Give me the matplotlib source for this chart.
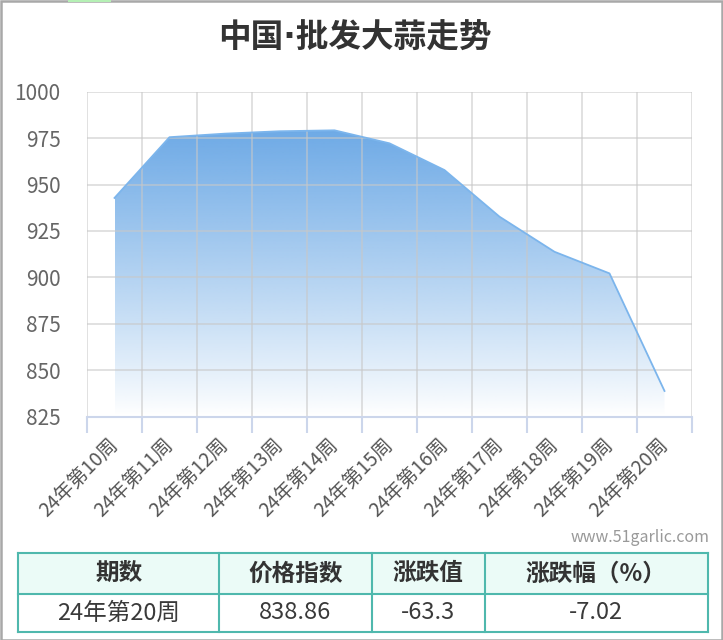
import numpy as np
import matplotlib
matplotlib.use("Agg")
import matplotlib.pyplot as plt
from matplotlib.patches import Polygon, Rectangle
from matplotlib.colors import to_rgb

plt.rcParams['font.family'] = ['Noto Sans CJK SC', 'DejaVu Sans']

title = "中国·批发大蒜走势"
weeks = ["24年第10周", "24年第11周", "24年第12周", "24年第13周", "24年第14周", "24年第15周",
         "24年第16周", "24年第17周", "24年第18周", "24年第19周", "24年第20周"]
values = [942.8, 975.5, 977.4, 978.7, 979.2, 972.2, 957.8, 932.7, 913.8, 902.16, 838.86]
yticks = [825, 850, 875, 900, 925, 950, 975, 1000]
table_header = ["期数", "价格指数", "涨跌值", "涨跌幅（%）"]
table_row = ["24年第20周", "838.86", "-63.3", "-7.02"]
watermark = "www.51garlic.com"

W, H = 723, 640
fig = plt.figure(figsize=(W / 100, H / 100), dpi=100)
fig.patch.set_facecolor('white')

# axes placement (pixel coords)
L, R, T, B = 87, 692, 91.7, 416.7
ax = fig.add_axes([L / W, 1 - B / H, (R - L) / W, (B - T) / H])
ax.set_facecolor('white')

n = len(weeks)
x = np.arange(n)
ymin, ymax = 825, 1000
ax.set_xlim(-0.5, n - 0.5)
ax.set_ylim(ymin, ymax)

# gradient area fill
line_color = '#7cb5ec'
fill_color = np.array(to_rgb('#6eaae6'))
base = 826
verts = [(x[0], base)] + list(zip(x, values)) + [(x[-1], base)]
poly = Polygon(verts, closed=True, facecolor='none', edgecolor='none')
ax.add_patch(poly)
top = max(values)
t = np.linspace(0, 1, 256)
alpha = np.clip(t, 0, 1) ** 0.9
rgba = np.zeros((256, 1, 4))
rgba[..., :3] = fill_color
rgba[..., 3] = alpha[:, None]
im = ax.imshow(rgba, extent=[x[0], x[-1], base, top], origin='lower',
               aspect='auto', zorder=1, interpolation='bilinear')
im.set_clip_path(poly)
ax.plot(x, values, color=line_color, lw=1.3, zorder=4, solid_joinstyle='round')

# grid
for yv in yticks[1:]:
    ax.axhline(yv, color='#c8c8c8', alpha=0.6, lw=1.3, zorder=2)
for xb in np.arange(-0.5, n, 1.0):
    ax.axvline(xb, color='#c8c8c8', alpha=0.6, lw=1.3, zorder=2)
ax.axhline(ymin, color='#ccd6eb', lw=1.5, zorder=3, clip_on=False)

for s in ax.spines.values():
    s.set_visible(False)

ax.set_yticks(yticks)
ax.set_yticklabels([str(v) for v in yticks])
ax.tick_params(axis='y', length=0, pad=19, labelsize=15, labelcolor='#666666')

ax.set_xticks(x)
ax.set_xticklabels(weeks, rotation=45, ha='right', va='center', rotation_mode='anchor')
ax.tick_params(axis='x', which='major', length=0, pad=18, labelsize=14, labelcolor='#555555')
ax.set_xticks(np.arange(-0.5, n, 1.0), minor=True)
ax.tick_params(axis='x', which='minor', length=11.5, width=1.5, color='#ccd6eb')

# title
fig.text(355 / W, 1 - 38 / H, title, ha='center', va='center', fontsize=23.5,
         fontweight='bold', color='#333333', family=['DejaVu Sans', 'Noto Sans CJK SC'])

# watermark
fig.text(710 / W, 1 - 537 / H, watermark, ha='right', va='center', fontsize=11.5,
         color='#999999')

# table
cols = [18.3, 219.3, 371.7, 485, 707.7]
rows = [552.7, 594, 631.7]
border = '#4fb8ad'
fig.patches.append(Rectangle((cols[0] / W, 1 - rows[1] / H), (cols[-1] - cols[0]) / W,
                             (rows[1] - rows[0]) / H, transform=fig.transFigure,
                             facecolor='#ebfbf7', edgecolor='none', zorder=1))
for yy in rows:
    fig.add_artist(plt.Line2D([cols[0] / W, cols[-1] / W], [1 - yy / H, 1 - yy / H],
                              transform=fig.transFigure, color=border, lw=1.5, zorder=2))
for xx in cols:
    fig.add_artist(plt.Line2D([xx / W, xx / W], [1 - rows[0] / H, 1 - rows[-1] / H],
                              transform=fig.transFigure, color=border, lw=1.5, zorder=2))
for i in range(4):
    cx = (cols[i] + cols[i + 1]) / 2 / W
    fig.text(cx, 1 - (rows[0] + rows[1]) / 2 / H, table_header[i], ha='center', va='center',
             fontsize=17, fontweight='bold', color='#333333')
    fig.text(cx, 1 - (rows[1] + rows[2]) / 2 / H, table_row[i], ha='center', va='center',
             fontsize=17, color='#3a3a3a')

# outer frame
fig.patches.append(Rectangle((0.5 / W, 0.5 / H), (W - 1.5) / W, (H - 1.5) / H,
                             transform=fig.transFigure, facecolor='none',
                             edgecolor='#a8a8a8', lw=1.8, zorder=5))
fig.patches.append(Rectangle((68 / W, 1 - 2 / H), 43 / W, 2 / H, transform=fig.transFigure,
                             facecolor='#b5f0b5', edgecolor='none', zorder=6))

fig.savefig('out.png', dpi=100, facecolor='white')
